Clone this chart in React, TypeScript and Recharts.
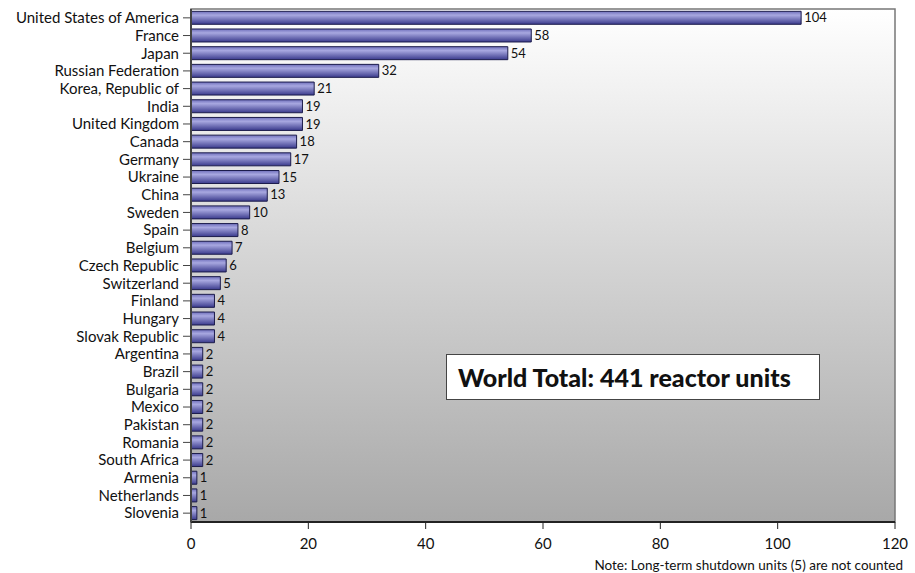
import React from "react";
import {
  Bar,
  BarChart,
  LabelList,
  ReferenceArea,
  XAxis,
  YAxis,
} from "recharts";

const countries = [
  "United States of America",
  "France",
  "Japan",
  "Russian Federation",
  "Korea, Republic of",
  "India",
  "United Kingdom",
  "Canada",
  "Germany",
  "Ukraine",
  "China",
  "Sweden",
  "Spain",
  "Belgium",
  "Czech Republic",
  "Switzerland",
  "Finland",
  "Hungary",
  "Slovak Republic",
  "Argentina",
  "Brazil",
  "Bulgaria",
  "Mexico",
  "Pakistan",
  "Romania",
  "South Africa",
  "Armenia",
  "Netherlands",
  "Slovenia",
];

const reactors = [
  104, 58, 54, 32, 21, 19, 19, 18, 17, 15, 13, 10, 8, 7, 6, 5, 4, 4, 4, 2, 2,
  2, 2, 2, 2, 2, 1, 1, 1,
];

const xTicks = [0, 20, 40, 60, 80, 100, 120];

const totalLabel = "World Total: 441 reactor units";
const note = "Note: Long-term shutdown units (5) are not counted";

const data = countries.map((name, i) => ({ name, value: reactors[i] }));

const FONT = "Lato, 'Open Sans', sans-serif";

export default function App() {
  return (
    <div
      style={{
        position: "absolute",
        left: 0,
        top: 0,
        width: 915,
        height: 573,
        background: "#fff",
        fontFamily: FONT,
      }}
    >
      <BarChart
        width={915}
        height={573}
        data={data}
        layout="vertical"
        margin={{ top: 9, right: 20, left: 0, bottom: 21 }}
        barCategoryGap="13%"
      >
        <defs>
          <linearGradient id="bg" x1="0" y1="0" x2="0" y2="1">
            <stop offset="0%" stopColor="#ffffff" />
            <stop offset="100%" stopColor="#a8a8a8" />
          </linearGradient>
          <linearGradient id="bar" x1="0" y1="0" x2="0" y2="1">
            <stop offset="0%" stopColor="#7070bc" />
            <stop offset="30%" stopColor="#a8a8e0" />
            <stop offset="100%" stopColor="#3a3a8c" />
          </linearGradient>
        </defs>
        <ReferenceArea
          x1={0}
          x2={120}
          fill="url(#bg)"
          fillOpacity={1}
          stroke="#777"
          strokeWidth={1.5}
        />
        <XAxis
          type="number"
          domain={[0, 120]}
          ticks={xTicks}
          height={30}
          axisLine={{ stroke: "#222", strokeWidth: 2 }}
          tickLine={{ stroke: "#222" }}
          tickSize={7}
          tickMargin={9}
          tick={{ fontSize: 15, fill: "#111", fontFamily: FONT }}
        />
        <YAxis
          type="category"
          dataKey="name"
          width={191}
          interval={0}
          axisLine={{ stroke: "#444", strokeWidth: 2 }}
          tickLine={{ stroke: "#444" }}
          tickSize={8}
          tickMargin={4}
          tick={{ fontSize: 15, fill: "#111", fontFamily: FONT }}
        />
        <Bar
          dataKey="value"
          fill="url(#bar)"
          stroke="#1c1c4c"
          strokeWidth={1}
          isAnimationActive={false}
        >
          <LabelList
            dataKey="value"
            position="right"
            offset={3}
            fontSize={13}
            fill="#111"
            fontFamily={FONT}
          />
        </Bar>
      </BarChart>
      <div
        style={{
          position: "absolute",
          left: 446,
          top: 354,
          width: 374,
          height: 46,
          boxSizing: "border-box",
          border: "1px solid #444",
          background: "#fff",
          display: "flex",
          alignItems: "center",
          paddingLeft: 11,
          fontSize: 25,
          fontWeight: 900,
          color: "#111",
          whiteSpace: "nowrap",
        }}
      >
        {totalLabel}
      </div>
      <div
        style={{
          position: "absolute",
          right: 12,
          top: 557,
          fontSize: 13.5,
          color: "#111",
          whiteSpace: "nowrap",
        }}
      >
        {note}
      </div>
    </div>
  );
}
